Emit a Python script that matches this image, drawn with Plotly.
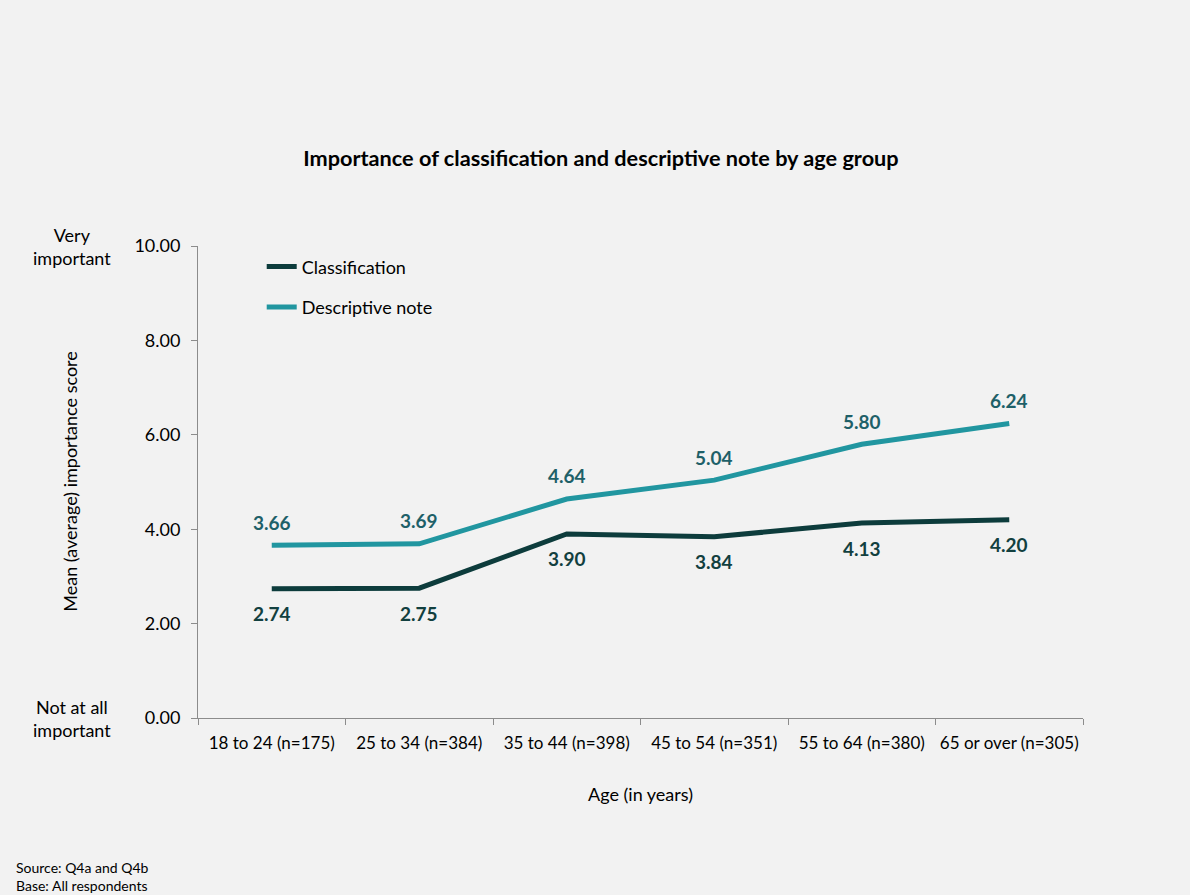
import plotly.graph_objects as go

categories = ["18 to 24 (n=175)", "25 to 34 (n=384)", "35 to 44 (n=398)",
              "45 to 54 (n=351)", "55 to 64 (n=380)", "65 or over (n=305)"]
classification = [2.74, 2.75, 3.90, 3.84, 4.13, 4.20]
descriptive = [3.66, 3.69, 4.64, 5.04, 5.80, 6.24]
y_ticks = [0, 2, 4, 6, 8, 10]

C_DARK = "#0D3C3C"
C_TEAL = "#2196A0"
L_DARK = "#12403F"
L_TEAL = "#1E6068"
FONT = "Lato, Open Sans, sans-serif"

fig = go.Figure()
fig.add_trace(go.Scatter(x=categories, y=classification, mode="lines", name="Classification",
                         legendgroup="a", line=dict(color=C_DARK, width=5)))
fig.add_trace(go.Scatter(x=categories, y=descriptive, mode="lines", name="Descriptive note",
                         legendgroup="b", line=dict(color=C_TEAL, width=5)))

ann = []
for c, v in zip(categories, descriptive):
    ann.append(dict(x=c, y=v, text=f"{v:.2f}", showarrow=False, yshift=23,
                    font=dict(size=19, color=L_TEAL, family=FONT, weight="bold")))
for c, v in zip(categories, classification):
    ann.append(dict(x=c, y=v, text=f"{v:.2f}", showarrow=False, yshift=-25,
                    font=dict(size=19, color=L_DARK, family=FONT, weight="bold")))

side = dict(size=18, color="#000000", family=FONT)
ann += [
    dict(xref="paper", yref="paper", x=-0.142, y=1.0, text="Very<br>important", showarrow=False,
         font=side, align="center", xanchor="center", yanchor="middle"),
    dict(xref="paper", yref="paper", x=-0.142, y=0.0, text="Not at all<br>important", showarrow=False,
         font=side, align="center", xanchor="center", yanchor="middle"),
    dict(xref="paper", yref="paper", x=-0.145, y=0.5, text="Mean (average) importance score",
         showarrow=False, textangle=-90, font=side, xanchor="center", yanchor="middle"),
    dict(xref="paper", yref="paper", x=0.5, y=-0.16, text="Age (in years)", showarrow=False,
         font=side, xanchor="center", yanchor="middle"),
    dict(xref="paper", yref="paper", x=-0.208, y=-0.335, text="Source: Q4a and Q4b<br>Base: All respondents",
         showarrow=False, font=dict(size=14, color="#000000", family=FONT), align="left",
         xanchor="left", yanchor="middle"),
]

fig.update_layout(
    width=1190, height=895,
    paper_bgcolor="#F2F2F2", plot_bgcolor="#F2F2F2",
    margin=dict(l=198, r=107, t=246, b=177),
    title=dict(text="<b>Importance of classification and descriptive note by age group</b>",
               x=0.505, xref="container", xanchor="center", y=1 - 158 / 895, yanchor="middle",
               font=dict(size=21.7, color="#000000", family=FONT)),
    font=dict(family=FONT, color="#000000"),
    showlegend=True,
    legend=dict(x=0.072, y=0.995, xanchor="left", yanchor="top", bgcolor="rgba(0,0,0,0)",
                font=dict(size=18, color="#000000", family=FONT), tracegroupgap=14,
                itemwidth=30),
    annotations=ann,
    xaxis=dict(type="category", range=[-0.5, 5.5], showline=True, linecolor="#8C8C8C", linewidth=1,
               ticks="outside", tickson="boundaries", ticklen=6, tickcolor="#8C8C8C",
               tickangle=0, ticklabelstandoff=10, showgrid=False, zeroline=False,
               tickfont=dict(size=17, family=FONT, color="#000000")),
    yaxis=dict(range=[0, 10], tickvals=y_ticks, ticktext=[f"{t:.2f}" for t in y_ticks],
               showline=True, linecolor="#8C8C8C", linewidth=1, ticks="outside", ticklen=6,
               tickcolor="#8C8C8C", ticklabelstandoff=7, showgrid=False, zeroline=False,
               tickfont=dict(size=18, family=FONT, color="#000000")),
)

fig.write_html("out.html")
